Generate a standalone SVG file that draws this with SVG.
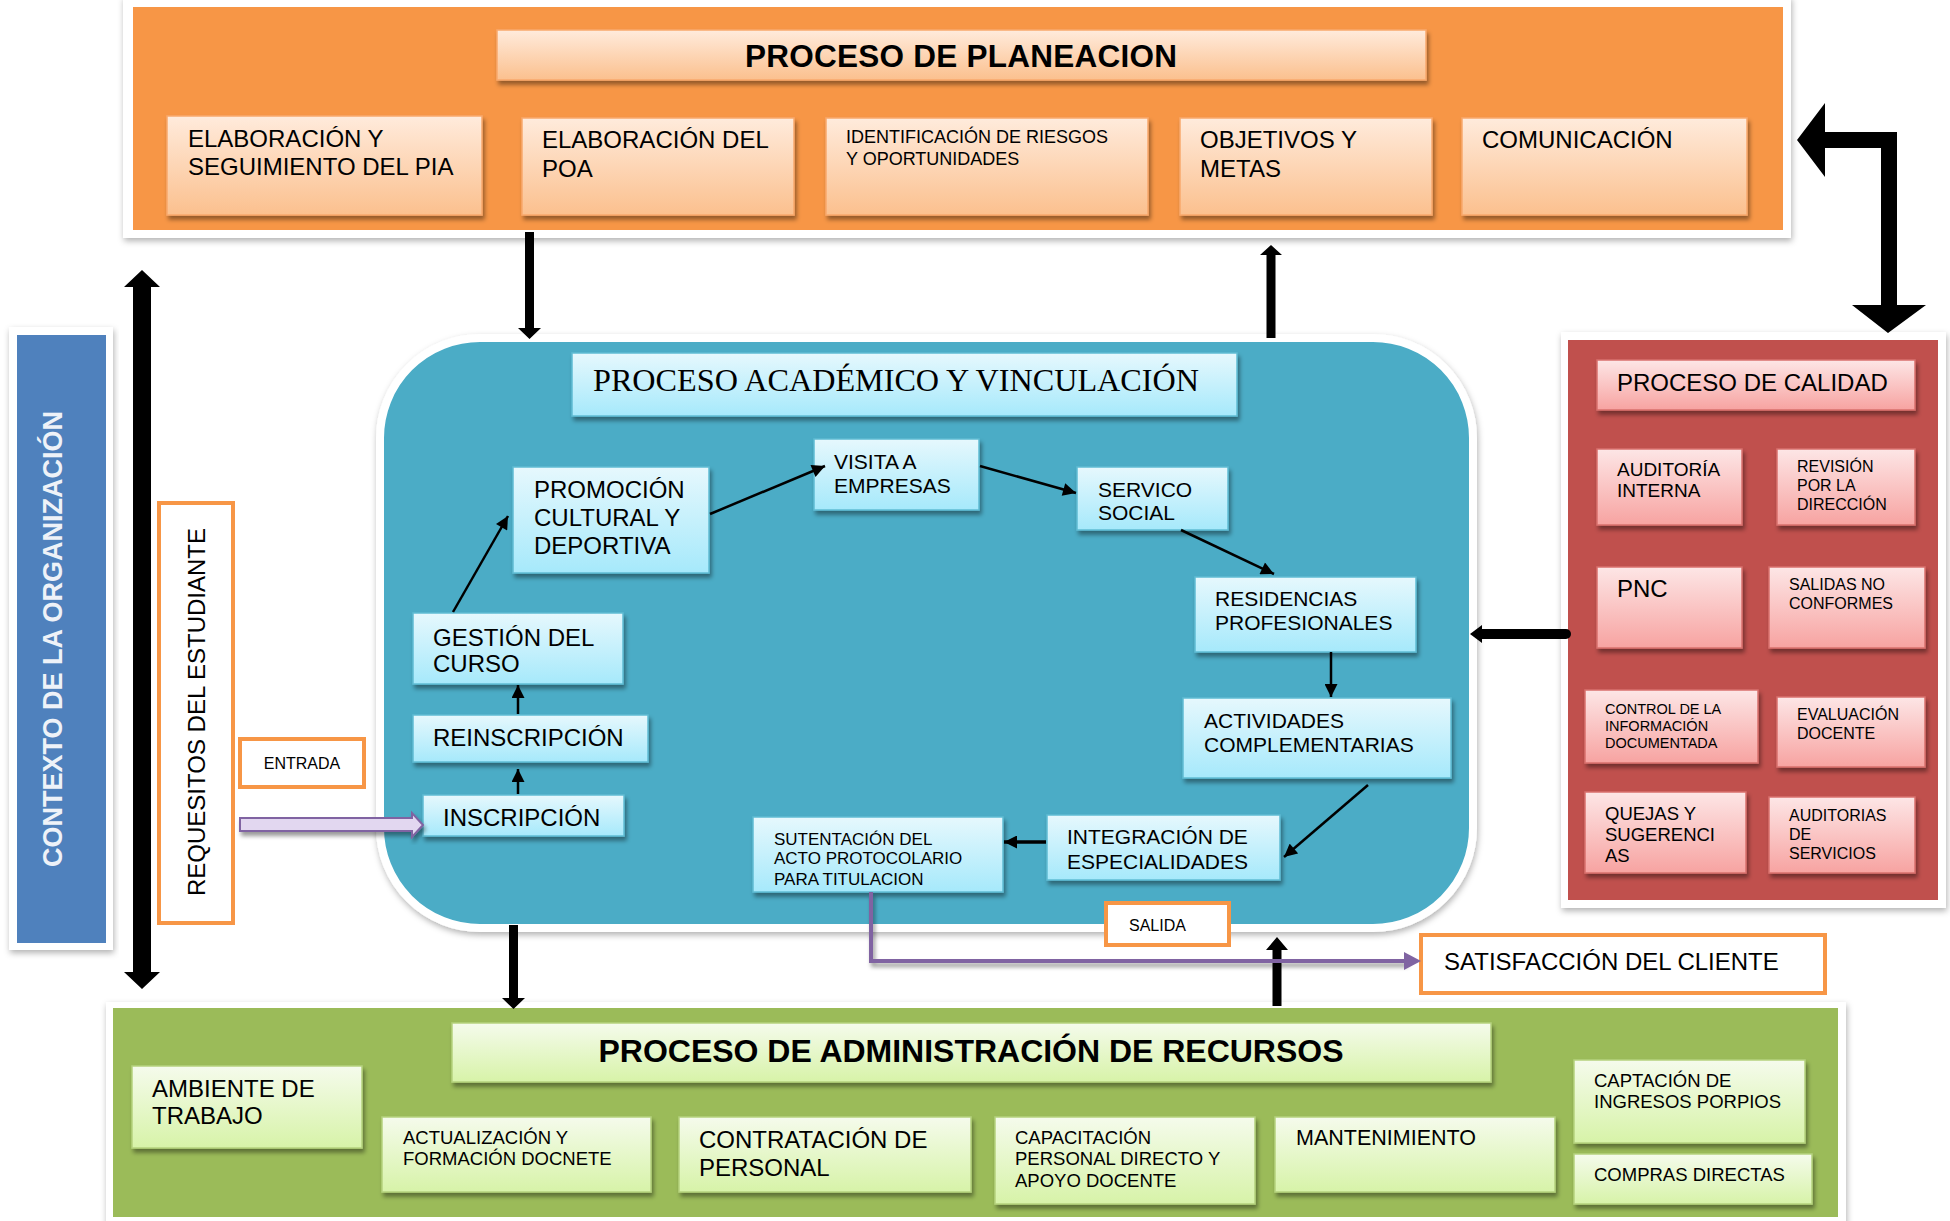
<svg xmlns="http://www.w3.org/2000/svg" width="1950" height="1221" viewBox="0 0 1950 1221">
<defs>
<linearGradient id="gO" x1="0" y1="0" x2="0" y2="1"><stop offset="0" stop-color="#FFEBDC"/><stop offset="1" stop-color="#FBC08E"/></linearGradient>
<linearGradient id="gT" x1="0" y1="0" x2="0" y2="1"><stop offset="0" stop-color="#E6F8FD"/><stop offset="1" stop-color="#A6E9FB"/></linearGradient>
<linearGradient id="gR" x1="0" y1="0" x2="0" y2="1"><stop offset="0" stop-color="#FDE6E6"/><stop offset="1" stop-color="#F7A3A1"/></linearGradient>
<linearGradient id="gG" x1="0" y1="0" x2="0" y2="1"><stop offset="0" stop-color="#F5FBEC"/><stop offset="1" stop-color="#D7F3A8"/></linearGradient>
<filter id="sh" x="-10%" y="-10%" width="130%" height="140%"><feDropShadow dx="2" dy="4" stdDeviation="2" flood-color="#000" flood-opacity="0.4"/></filter>
<filter id="psh" x="-5%" y="-5%" width="110%" height="115%"><feDropShadow dx="1" dy="3" stdDeviation="3" flood-color="#000" flood-opacity="0.3"/></filter>
<marker id="ah" viewBox="0 0 10 10" refX="10" refY="5" markerWidth="14" markerHeight="13" markerUnits="userSpaceOnUse" orient="auto"><path d="M0,0 L10,5 L0,10 Z" fill="#000"/></marker>
<clipPath id="cSut"><rect x="753" y="817" width="250" height="68"/></clipPath>
<style>
.t{font-family:"Liberation Sans",Arial,sans-serif;fill:#000}
.b{font-weight:bold}
.o{fill:url(#gO);stroke:#F9A96C;stroke-width:1.5;filter:url(#sh)}
.c{fill:url(#gT);stroke:#5FBCD4;stroke-width:1.5;filter:url(#sh)}
.r{fill:url(#gR);stroke:#D9706D;stroke-width:1.5;filter:url(#sh)}
.g{fill:url(#gG);stroke:#B5D27E;stroke-width:1.5;filter:url(#sh)}
.frame{fill:#fff;filter:url(#psh)}
.ob{fill:#fff;stroke:#F79646;stroke-width:4}
.ln{stroke:#000;stroke-width:2.5;fill:none;marker-end:url(#ah)}
</style>
</defs>

<g id="planeacion">
<rect class="frame" x="123" y="-4" width="1668" height="242"/>
<rect x="133" y="7" width="1650" height="223" fill="#F79646"/>
<rect class="o" x="497" y="30" width="929" height="50"/>
<text class="t b" x="961" y="67" font-size="31.5" text-anchor="middle" textLength="432">PROCESO DE PLANEACION</text>
</g>
<g id="pia"><rect class="o" x="167" y="116" width="315" height="99"/>
<text class="t" font-size="24"><tspan x="188" y="147">ELABORACIÓN Y</tspan><tspan x="188" y="175">SEGUIMIENTO DEL PIA</tspan></text></g>
<g id="poa"><rect class="o" x="522" y="118" width="272" height="97"/>
<text class="t" font-size="24"><tspan x="542" y="148">ELABORACIÓN DEL</tspan><tspan x="542" y="177">POA</tspan></text></g>
<g id="riesgos"><rect class="o" x="826" y="118" width="322" height="97"/>
<text class="t" font-size="18"><tspan x="846" y="143">IDENTIFICACIÓN DE RIESGOS</tspan><tspan x="846" y="165">Y OPORTUNIDADES</tspan></text></g>
<g id="objetivos"><rect class="o" x="1180" y="118" width="252" height="97"/>
<text class="t" font-size="24"><tspan x="1200" y="148">OBJETIVOS Y</tspan><tspan x="1200" y="177">METAS</tspan></text></g>
<g id="comunicacion"><rect class="o" x="1462" y="118" width="285" height="97"/>
<text class="t" font-size="24" x="1482" y="148">COMUNICACIÓN</text></g>

<g id="contexto">
<rect class="frame" x="9" y="327" width="104" height="623"/>
<rect x="17" y="335" width="89" height="608" fill="#4F81BD"/>
<text class="t b" font-size="27" style="fill:#EEF2F8" text-anchor="middle" transform="translate(62,639) rotate(-90)">CONTEXTO DE LA ORGANIZACIÓN</text>
</g>

<g id="requisitos">
<rect class="ob" x="159" y="503" width="74" height="420"/>
<text class="t" font-size="24" text-anchor="middle" transform="translate(205,712) rotate(-90)">REQUESITOS DEL ESTUDIANTE</text>
</g>

<g id="entrada">
<rect class="ob" x="240" y="739" width="124" height="48"/>
<text class="t" font-size="16" x="302" y="769" text-anchor="middle">ENTRADA</text>
</g>

<g id="academico">
<rect x="380" y="338" width="1093" height="590" rx="100" ry="100" fill="#4BACC6" stroke="#fff" stroke-width="8" filter="url(#psh)"/>
<rect class="c" x="572" y="353" width="665" height="63"/>
<text x="593" y="391" font-family="'Liberation Serif','Times New Roman',serif" font-size="32" fill="#000" textLength="606" lengthAdjust="spacingAndGlyphs">PROCESO ACADÉMICO Y VINCULACIÓN</text>
</g>
<g id="promocion"><rect class="c" x="513" y="467" width="196" height="106"/>
<text class="t" font-size="24"><tspan x="534" y="498">PROMOCIÓN</tspan><tspan x="534" y="526">CULTURAL Y</tspan><tspan x="534" y="554">DEPORTIVA</tspan></text></g>
<g id="visita"><rect class="c" x="814" y="439" width="165" height="71"/>
<text class="t" font-size="21"><tspan x="834" y="469">VISITA A</tspan><tspan x="834" y="493">EMPRESAS</tspan></text></g>
<g id="servicio"><rect class="c" x="1077" y="467" width="151" height="63"/>
<text class="t" font-size="21"><tspan x="1098" y="497">SERVICO</tspan><tspan x="1098" y="520">SOCIAL</tspan></text></g>
<g id="gestion"><rect class="c" x="413" y="613" width="210" height="71"/>
<text class="t" font-size="24"><tspan x="433" y="646">GESTIÓN DEL</tspan><tspan x="433" y="672">CURSO</tspan></text></g>
<g id="reinscripcion"><rect class="c" x="413" y="715" width="235" height="47"/>
<text class="t" font-size="24" x="433" y="746">REINSCRIPCIÓN</text></g>
<g id="inscripcion"><rect class="c" x="423" y="795" width="201" height="41"/>
<text class="t" font-size="24" x="443" y="826">INSCRIPCIÓN</text></g>
<g id="residencias"><rect class="c" x="1195" y="577" width="221" height="75"/>
<text class="t" font-size="21"><tspan x="1215" y="606">RESIDENCIAS</tspan><tspan x="1215" y="630">PROFESIONALES</tspan></text></g>
<g id="actividades"><rect class="c" x="1183" y="698" width="268" height="80"/>
<text class="t" font-size="21"><tspan x="1204" y="728">ACTIVIDADES</tspan><tspan x="1204" y="752">COMPLEMENTARIAS</tspan></text></g>
<g id="integracion"><rect class="c" x="1047" y="815" width="233" height="65"/>
<text class="t" font-size="21"><tspan x="1067" y="844">INTEGRACIÓN DE</tspan><tspan x="1067" y="869">ESPECIALIDADES</tspan></text></g>
<g id="sustentacion"><rect class="c" x="753" y="817" width="250" height="75"/>
<text class="t" font-size="17" clip-path="url(#cSut)"><tspan x="774" y="845">SUTENTACIÓN DEL</tspan><tspan x="774" y="864">ACTO PROTOCOLARIO</tspan><tspan x="774" y="885">PARA TITULACION</tspan></text></g>

<g id="salida">
<rect class="ob" x="1106" y="903" width="123" height="42"/>
<text class="t" font-size="16" x="1129" y="931">SALIDA</text>
</g>

<g id="satisfaccion">
<rect class="ob" x="1421" y="935" width="404" height="58"/>
<text class="t" font-size="24" x="1444" y="970">SATISFACCIÓN DEL CLIENTE</text>
</g>

<g id="calidad">
<rect class="frame" x="1561" y="332" width="385" height="576"/>
<rect x="1568" y="340" width="370" height="560" fill="#C0504D"/>
<rect class="r" x="1597" y="360" width="318" height="50"/>
<text class="t" font-size="24" x="1617" y="391">PROCESO DE CALIDAD</text>
</g>
<g id="auditoria"><rect class="r" x="1597" y="449" width="145" height="76"/>
<text class="t" font-size="19"><tspan x="1617" y="476">AUDITORÍA</tspan><tspan x="1617" y="497">INTERNA</tspan></text></g>
<g id="revision"><rect class="r" x="1777" y="449" width="138" height="76"/>
<text class="t" font-size="16"><tspan x="1797" y="472">REVISIÓN</tspan><tspan x="1797" y="491">POR LA</tspan><tspan x="1797" y="510">DIRECCIÓN</tspan></text></g>
<g id="pnc"><rect class="r" x="1597" y="567" width="145" height="81"/>
<text class="t" font-size="24" x="1617" y="597">PNC</text></g>
<g id="salidasnc"><rect class="r" x="1769" y="567" width="156" height="81"/>
<text class="t" font-size="16"><tspan x="1789" y="590">SALIDAS NO</tspan><tspan x="1789" y="609">CONFORMES</tspan></text></g>
<g id="control"><rect class="r" x="1585" y="690" width="173" height="73"/>
<text class="t" font-size="14.5"><tspan x="1605" y="714">CONTROL DE LA</tspan><tspan x="1605" y="731">INFORMACIÓN</tspan><tspan x="1605" y="748">DOCUMENTADA</tspan></text></g>
<g id="evaluacion"><rect class="r" x="1777" y="697" width="148" height="70"/>
<text class="t" font-size="16"><tspan x="1797" y="720">EVALUACIÓN</tspan><tspan x="1797" y="739">DOCENTE</tspan></text></g>
<g id="quejas"><rect class="r" x="1585" y="792" width="161" height="81"/>
<text class="t" font-size="18.5"><tspan x="1605" y="820">QUEJAS Y</tspan><tspan x="1605" y="841">SUGERENCI</tspan><tspan x="1605" y="862">AS</tspan></text></g>
<g id="auditservicios"><rect class="r" x="1769" y="797" width="146" height="76"/>
<text class="t" font-size="16"><tspan x="1789" y="821">AUDITORIAS</tspan><tspan x="1789" y="840">DE</tspan><tspan x="1789" y="859">SERVICIOS</tspan></text></g>

<g id="recursos">
<rect class="frame" x="106" y="1002" width="1740" height="225"/>
<rect x="113" y="1008" width="1725" height="209" fill="#9BBB59"/>
<rect class="g" x="452" y="1023" width="1039" height="59"/>
<text class="t b" font-size="32" x="971" y="1062" text-anchor="middle" textLength="745">PROCESO DE ADMINISTRACIÓN DE RECURSOS</text>
</g>
<g id="ambiente"><rect class="g" x="132" y="1066" width="230" height="82"/>
<text class="t" font-size="24"><tspan x="152" y="1097">AMBIENTE DE</tspan><tspan x="152" y="1124">TRABAJO</tspan></text></g>
<g id="actualizacion"><rect class="g" x="382" y="1117" width="269" height="75"/>
<text class="t" font-size="18.5"><tspan x="403" y="1144">ACTUALIZACIÓN Y</tspan><tspan x="403" y="1165">FORMACIÓN DOCNETE</tspan></text></g>
<g id="contratacion"><rect class="g" x="679" y="1117" width="292" height="75"/>
<text class="t" font-size="24"><tspan x="699" y="1148">CONTRATACIÓN DE</tspan><tspan x="699" y="1176">PERSONAL</tspan></text></g>
<g id="capacitacion"><rect class="g" x="995" y="1117" width="260" height="87"/>
<text class="t" font-size="18.5"><tspan x="1015" y="1144">CAPACITACIÓN</tspan><tspan x="1015" y="1165">PERSONAL DIRECTO Y</tspan><tspan x="1015" y="1187">APOYO DOCENTE</tspan></text></g>
<g id="mantenimiento"><rect class="g" x="1275" y="1117" width="280" height="75"/>
<text class="t" font-size="21.5" x="1296" y="1145">MANTENIMIENTO</text></g>
<g id="captacion"><rect class="g" x="1574" y="1060" width="231" height="83"/>
<text class="t" font-size="18.5"><tspan x="1594" y="1087">CAPTACIÓN DE</tspan><tspan x="1594" y="1108">INGRESOS PORPIOS</tspan></text></g>
<g id="compras"><rect class="g" x="1574" y="1154" width="238" height="50"/>
<text class="t" font-size="18.5" x="1594" y="1181">COMPRAS DIRECTAS</text></g>

<g id="connectors">
<line class="ln" x1="518" y1="794" x2="518" y2="769"/>
<line class="ln" x1="518" y1="714" x2="518" y2="685"/>
<line class="ln" x1="453" y1="612" x2="508" y2="516"/>
<line class="ln" x1="710" y1="514" x2="825" y2="466"/>
<line class="ln" x1="980" y1="466" x2="1076" y2="493"/>
<line class="ln" x1="1181" y1="530" x2="1274" y2="574"/>
<line class="ln" x1="1331" y1="652" x2="1331" y2="697"/>
<line class="ln" x1="1368" y1="785" x2="1284" y2="857"/>
<line class="ln" x1="1046" y1="842" x2="1004" y2="842" style="stroke-width:3.5"/>
<polygon points="525,232 534,232 534,328 541,328 529.5,339 518,328 525,328" fill="#000"/>
<polygon points="1266.5,338 1275.5,338 1275.5,255 1282,255 1271,245 1260,255 1266.5,255" fill="#000"/>
<polygon points="509,925 518,925 518,998 525,998 513.5,1009 502,998 509,998" fill="#000"/>
<polygon points="1272.5,1006 1281.5,1006 1281.5,950 1288,950 1277,937 1266,950 1272.5,950" fill="#000"/>
<polygon points="133,287 124,287 142,270 160,287 151,287 151,972 160,972 142,989 124,972 133,972" fill="#000"/>
<polygon points="1797,140 1825,103 1825,132 1897,132 1897,305 1926,305 1888,333 1852,305 1881,305 1881,148 1825,148 1825,177" fill="#000"/>
<line x1="1566" y1="634" x2="1480" y2="634" stroke="#000" stroke-width="10" stroke-linecap="round"/>
<polygon points="1470,634 1482,625 1482,643" fill="#000"/>
<polygon points="240,818 412,818 412,813 423,825 412,837 412,831 240,831" fill="#E2D7F0" stroke="#8064A2" stroke-width="2" filter="url(#sh)"/>
<path d="M871 892 V961 H1406" fill="none" stroke="#8064A2" stroke-width="4" filter="url(#sh)"/>
<polygon points="1404,952 1421,961 1404,970" fill="#8064A2"/>
</g>
</svg>
